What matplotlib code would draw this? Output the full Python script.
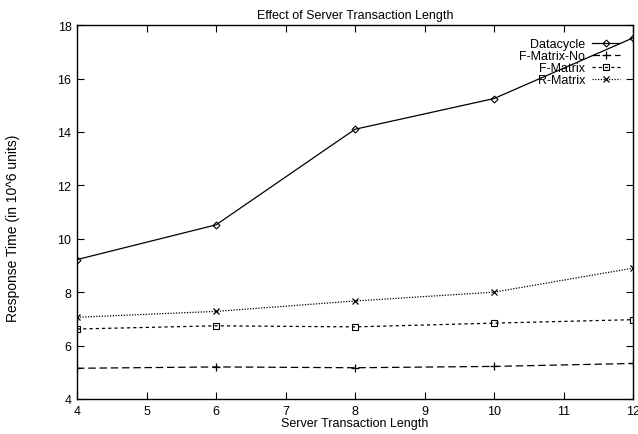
import matplotlib
matplotlib.use("Agg")
import matplotlib.pyplot as plt

plt.rcParams['font.family'] = ['Liberation Sans', 'DejaVu Sans']

# Server transaction length vs. response time
lengths = [4, 6, 8, 10, 12]
datacycle = [9.22, 10.52, 14.10, 15.25, 17.52]
fmatrix_no = [5.15, 5.20, 5.17, 5.22, 5.33]
fmatrix = [6.62, 6.74, 6.70, 6.84, 6.97]
rmatrix = [7.06, 7.28, 7.67, 8.00, 8.90]

x_ticks = [4, 5, 6, 7, 8, 9, 10, 11, 12]
y_ticks = [4, 6, 8, 10, 12, 14, 16, 18]

fig = plt.figure(figsize=(6.38, 4.35), dpi=100)
ax = fig.add_axes([0.1207, 0.0805, 0.8715, 0.8595])

ms = 4
ax.plot(lengths, datacycle, color='black', lw=0.9, ls='-', marker='D',
        ms=3.5, mfc='none', mew=0.8, label='Datacycle')
ax.plot(lengths, fmatrix_no, color='black', lw=0.9, ls=(0, (6, 3)), marker='+',
        ms=6, mew=0.9, label='F-Matrix-No')
ax.plot(lengths, fmatrix, color='black', lw=0.9, ls=(0, (2.5, 2.5)), marker='s',
        ms=ms, mfc='none', mew=0.8, label='F-Matrix')
ax.plot(lengths, rmatrix, color='black', lw=0.9, ls=(0, (1, 1.2)), marker='x',
        ms=ms, mew=0.9, label='R-Matrix')

ax.set_xlim(4, 12)
ax.set_ylim(4, 18)
ax.set_xticks(x_ticks)
ax.set_yticks(y_ticks)
ax.tick_params(direction='in', length=5, width=0.8, top=True, right=True,
               labelsize=9, pad=4, color='black')
for s in ax.spines.values():
    s.set_linewidth(1.0)

ax.set_title('Effect of Server Transaction Length', fontsize=9, pad=5)
ax.set_xlabel('Server Transaction Length', fontsize=9, labelpad=0)
fig.text(0.021, 0.476, 'Response Time (in 10^6 units)', fontsize=10,
         rotation=90, ha='center', va='center')

leg = ax.legend(loc='upper right', frameon=False, markerfirst=False,
                fontsize=9, handlelength=2.2, handletextpad=0.6,
                labelspacing=0.0, borderaxespad=0.3, borderpad=0.75)
for t in leg.get_texts():
    t.set_ha('right')

fig.savefig('out.png', dpi=100)
